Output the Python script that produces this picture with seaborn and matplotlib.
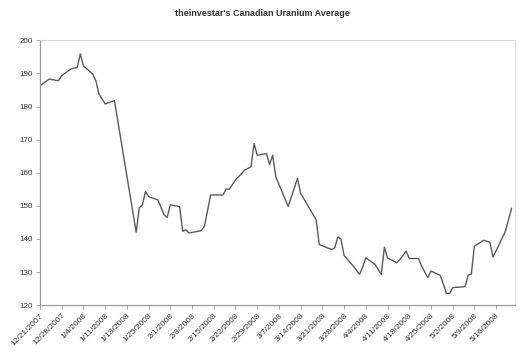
import pandas as pd
import matplotlib
matplotlib.use("Agg")
import matplotlib.pyplot as plt
import matplotlib.dates as mdates
import seaborn as sns

# Index values (trading days)
dates = ['2007-12-21', '2007-12-24', '2007-12-27', '2007-12-28', '2007-12-31',
         '2008-01-02', '2008-01-03', '2008-01-04', '2008-01-07', '2008-01-08',
         '2008-01-09', '2008-01-11', '2008-01-14', '2008-01-21', '2008-01-22',
         '2008-01-23', '2008-01-24', '2008-01-25', '2008-01-28', '2008-01-30',
         '2008-01-31', '2008-02-01', '2008-02-04', '2008-02-05', '2008-02-06',
         '2008-02-07', '2008-02-11', '2008-02-12', '2008-02-14', '2008-02-18',
         '2008-02-19', '2008-02-20', '2008-02-22', '2008-02-25', '2008-02-27',
         '2008-02-28', '2008-02-29', '2008-03-03', '2008-03-04', '2008-03-05',
         '2008-03-06', '2008-03-10', '2008-03-13', '2008-03-14', '2008-03-19',
         '2008-03-20', '2008-03-24', '2008-03-25', '2008-03-26', '2008-03-27',
         '2008-03-28', '2008-03-31', '2008-04-02', '2008-04-03', '2008-04-04',
         '2008-04-07', '2008-04-09', '2008-04-10', '2008-04-11', '2008-04-14',
         '2008-04-15', '2008-04-17', '2008-04-18', '2008-04-21', '2008-04-22',
         '2008-04-24', '2008-04-25', '2008-04-28', '2008-04-30', '2008-05-01',
         '2008-05-02', '2008-05-06', '2008-05-07', '2008-05-08', '2008-05-09',
         '2008-05-12', '2008-05-14', '2008-05-15', '2008-05-19', '2008-05-21']
values = [186.3, 188.3, 187.8, 189.3, 191.4,
          191.8, 195.9, 192.3, 189.8, 187.8,
          183.8, 180.8, 181.8, 142.0, 149.4,
          150.3, 154.3, 152.8, 151.8, 147.3,
          146.5, 150.3, 149.8, 142.3, 142.8,
          141.8, 142.5, 143.8, 153.3, 153.3,
          155.1, 155.0, 157.8, 160.8, 161.8,
          168.8, 165.3, 165.8, 162.5, 165.3,
          158.8, 149.8, 158.3, 153.8, 145.8,
          138.3, 136.8, 137.3, 140.6, 140.0,
          135.0, 131.8, 129.3, 131.5, 134.3,
          132.3, 129.3, 137.5, 134.3, 132.8,
          133.8, 136.3, 134.1, 134.1, 131.8,
          128.3, 130.3, 129.0, 123.6, 123.5,
          125.3, 125.6, 129.1, 129.3, 137.8,
          139.6, 139.0, 134.5, 142.3, 149.3]

tick_dates = pd.date_range('2007-12-21', '2008-05-16', freq='7D')
y_ticks = [120, 130, 140, 150, 160, 170, 180, 190, 200]

df = pd.DataFrame({'Date': pd.to_datetime(dates), 'Average': values})

sns.set_style("white")
plt.rcParams['font.family'] = ['Liberation Sans', 'DejaVu Sans']

fig = plt.figure(figsize=(5.24, 3.54), dpi=100)
ax = fig.add_axes([0.0763, 0.138, 0.906, 0.748])

sns.lineplot(data=df, x='Date', y='Average', color='#5a5a5a', linewidth=1.0, ax=ax)

ax.set_xlim(pd.Timestamp('2007-12-21'), pd.Timestamp('2008-05-22'))
ax.set_ylim(120, 200)
ax.set_yticks(y_ticks)
ax.set_xticks(tick_dates)
ax.xaxis.set_major_formatter(
    matplotlib.ticker.FuncFormatter(
        lambda v, p: (lambda d: f"{d.month}/{d.day}/{d.year}")(mdates.num2date(v))))
plt.setp(ax.get_xticklabels(), rotation=45, ha='right', rotation_mode='anchor',
         fontsize=6, color='#333333')
plt.setp(ax.get_yticklabels(), fontsize=5.8, color='#333333')
ax.tick_params(axis='both', length=3, width=0.6, color='#999999', pad=2,
               bottom=True, left=True)
ax.set_xlabel('')
ax.set_ylabel('')

for side in ['left', 'bottom']:
    ax.spines[side].set_color('#999999')
    ax.spines[side].set_linewidth(0.9)
for side in ['top', 'right']:
    ax.spines[side].set_color('#d0d0d0')
    ax.spines[side].set_linewidth(0.6)

fig.text(0.5, 0.962, "theinvestar's Canadian Uranium Average", ha='center', va='center',
         fontsize=6.5, fontweight='bold', color='#333333')

fig.savefig('out.png', dpi=100)
